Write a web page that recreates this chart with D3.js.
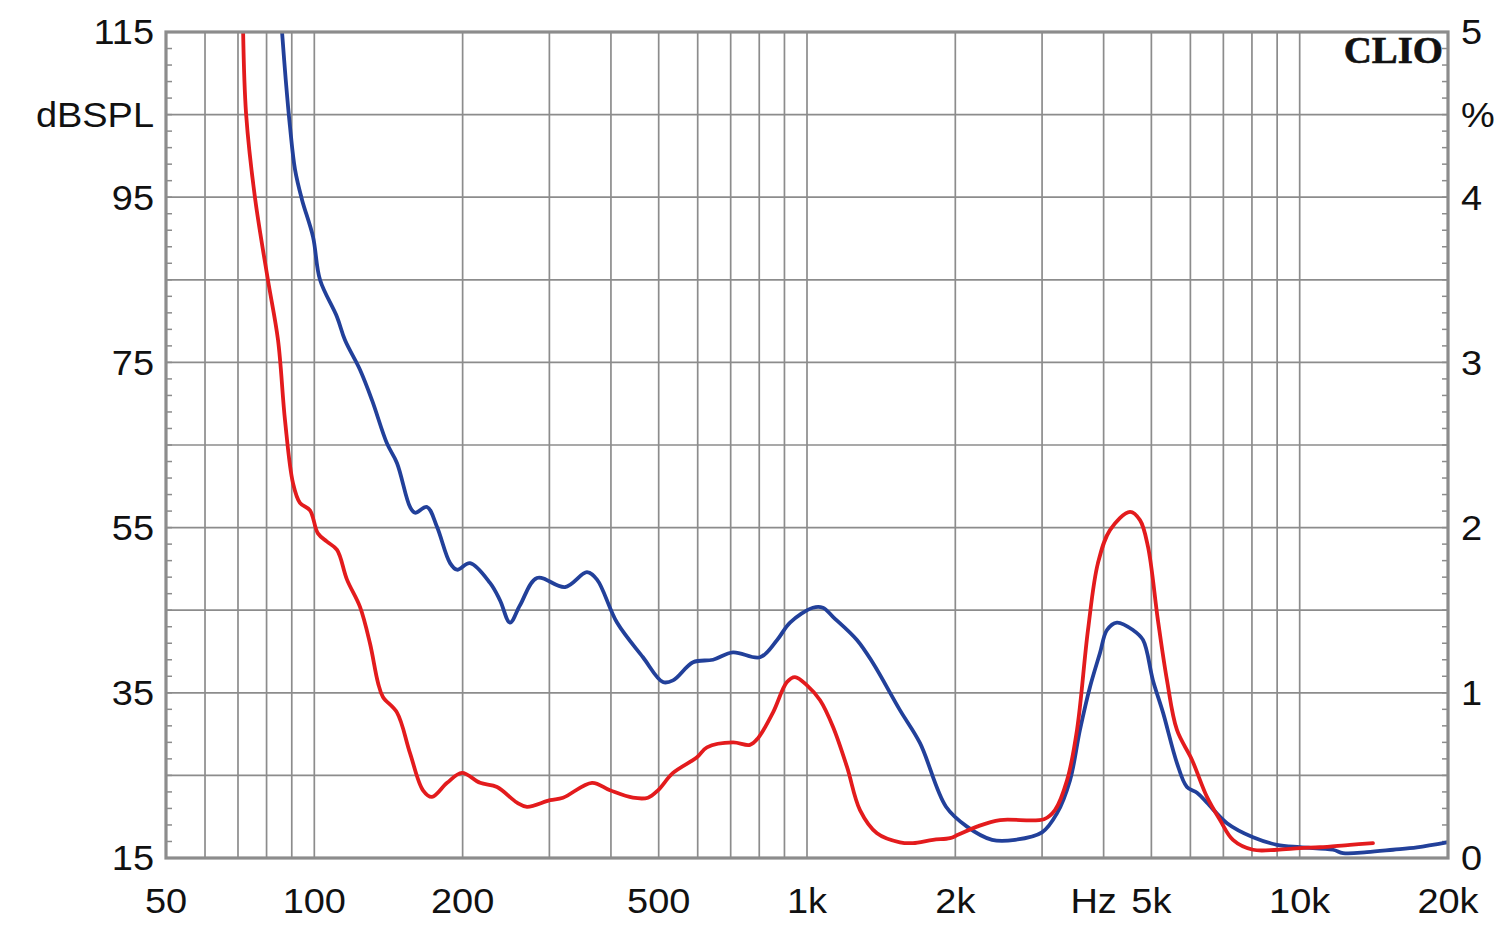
<!DOCTYPE html>
<html>
<head>
<meta charset="utf-8">
<script src="https://cdn.jsdelivr.net/npm/d3@7"></script>
<style>
  html, body { margin: 0; padding: 0; background: #ffffff; }
  svg { display: block; }
</style>
</head>
<body>
<svg id="chart" width="1500" height="934"></svg>
<script>
// ---------------- DATA ----------------
const xTickValues = [50, 100, 200, 500, 1000, 2000, 4000, 5000, 10000, 20000];
const xTickLabels = ["50", "100", "200", "500", "1k", "2k", "Hz", "5k", "10k", "20k"];
const xGridValues = [60, 70, 80, 90, 100, 200, 300, 400, 500, 600, 700, 800, 900, 1000,
                     2000, 3000, 4000, 5000, 6000, 7000, 8000, 9000, 10000];
const yTickValues = [115, 105, 95, 75, 55, 35, 15];
const yTickLabels = ["115", "dBSPL", "95", "75", "55", "35", "15"];
const yGridValues = [25, 35, 45, 55, 65, 75, 85, 95, 105];
const rightTickValues = [5, 4.5, 4, 3, 2, 1, 0];
const rightTickLabels = ["5", "%", "4", "3", "2", "1", "0"];

// red curve
const redFreq = [71.7, 72.7, 75.8, 80.5, 84.4, 87.2, 90.5, 93.5, 98.0, 101.7, 106.1, 111.2, 116.5,
  123.8, 129.7, 134.7, 137.8, 147.2, 156.4, 166.2, 173.3, 186.0, 199.4, 217.0, 234.9, 257.9, 270.2,
  300.8, 319.7, 366.1, 398.2, 443.3, 475.6, 498.4, 534.6, 598.0, 626.6, 707.4, 765.8, 795.3, 852.8,
  910.6, 945.4, 1000, 1063, 1129, 1206, 1281, 1387, 1544, 1641, 1802, 1951, 2025, 2213, 2465, 3027,
  3186, 3371, 3532, 3718, 3895, 4120, 4525, 4741, 4921, 5155, 5379, 5635, 6043, 6483, 6891, 7321,
  8040, 8990, 10013, 10995, 12650, 14086];
const redVal = [115.0, 105.1, 94.9, 85.0, 77.7, 68.0, 60.4, 58.0, 57.1, 54.3, 53.3, 52.3, 48.7,
  45.4, 41.0, 36.2, 34.5, 32.6, 27.7, 23.2, 22.4, 24.1, 25.3, 24.1, 23.6, 21.7, 21.2,
  22.0, 22.3, 24.1, 23.2, 22.3, 22.3, 23.2, 25.3, 27.2, 28.4, 29.0, 28.7, 29.5, 32.6,
  36.3, 36.9, 35.9, 34.1, 30.9, 26.0, 20.8, 18.0, 16.9, 16.8, 17.2, 17.4, 17.8, 18.8, 19.6, 19.7,
  20.8, 24.4, 30.5, 42.6, 50.7, 54.7, 56.9, 55.9, 52.7, 43.8, 36.5, 30.5, 26.9, 22.4, 19.6, 17.2,
  16.0, 16.0, 16.2, 16.3, 16.6, 16.8];

// blue curve
const blueFreq = [86.0, 87.5, 89.2, 91.4, 94.4, 99.4, 102.7, 111.2, 115.4, 123.8, 131.0, 140.4,
  147.2, 156.4, 160.1, 169.3, 177.4, 188.6, 194.8, 207.0, 227.3, 238.2, 249.6, 261.5, 283.1, 322.7,
  357.6, 374.8, 411.5, 464.6, 510.0, 534.6, 587.2, 644.6, 707.4, 802.9, 869.7, 923.8, 1028, 1077,
  1129, 1263, 1361, 1544, 1696, 1915, 2112, 2375, 2644, 2999, 3216, 3418, 3581, 3753, 3932, 4063,
  4257, 4588, 4808, 5037, 5280, 5635, 5904, 6188, 6483, 7121, 8040, 8990, 10013, 11686, 12245,
  13693, 15469, 17300, 19905];
const blueVal = [115.0, 109.2, 103.7, 98.3, 94.7, 90.2, 85.0, 80.5, 77.7, 74.1, 70.4, 65.2,
  62.8, 57.5, 56.8, 57.5, 55.1, 50.7, 49.9, 50.7, 48.3, 46.2, 43.5, 45.6, 48.9, 47.8,
  49.6, 48.7, 43.5, 39.3, 36.3, 36.5, 38.7, 39.0, 39.9, 39.3, 41.4, 43.5, 45.3, 45.3,
  44.2, 41.4, 38.6, 32.9, 28.9, 21.2, 18.8, 17.2, 17.2, 18.1, 20.4, 24.4, 30.5, 35.7, 39.8, 42.6,
  43.5, 42.6, 41.4, 36.5, 32.6, 26.5, 23.6, 22.9, 21.7, 19.2, 17.5, 16.6, 16.3, 16.0, 15.6,
  15.7, 16.0, 16.3, 16.9];

// ---------------- CHART ----------------
const svg = d3.select("#chart");
const M = { left: 166, right: 1448, top: 32, bottom: 858 };
const gridColor = "#8c8c8c";
const font = "'Liberation Sans', Arial, sans-serif";
const fs = 34.5, sx = 1.1;

const x = d3.scaleLog().domain([50, 20000]).range([M.left, M.right]);
const y = d3.scaleLinear().domain([15, 115]).range([M.bottom, M.top]);
const yR = d3.scaleLinear().domain([0, 5]).range([M.bottom, M.top]);

// grid
svg.append("g").selectAll("line").data(xGridValues).join("line")
  .attr("x1", d => x(d)).attr("x2", d => x(d))
  .attr("y1", M.top).attr("y2", M.bottom)
  .attr("stroke", gridColor).attr("stroke-width", 1.7);
svg.append("g").selectAll("line").data(yGridValues).join("line")
  .attr("x1", M.left).attr("x2", M.right)
  .attr("y1", d => y(d)).attr("y2", d => y(d))
  .attr("stroke", gridColor).attr("stroke-width", 1.7);

// minor ticks every 2 dB on left & right (inward)
const minor = d3.range(17, 115, 2);
svg.append("g").selectAll("line").data(minor).join("line")
  .attr("x1", M.left).attr("x2", M.left + 6)
  .attr("y1", d => y(d)).attr("y2", d => y(d))
  .attr("stroke", gridColor).attr("stroke-width", 1.5);
svg.append("g").selectAll("line").data(minor).join("line")
  .attr("x1", M.right - 6).attr("x2", M.right)
  .attr("y1", d => y(d)).attr("y2", d => y(d))
  .attr("stroke", gridColor).attr("stroke-width", 1.5);

// curves
svg.append("clipPath").attr("id", "plotclip").append("rect")
  .attr("x", M.left).attr("y", M.top)
  .attr("width", M.right - M.left).attr("height", M.bottom - M.top);

const line = d3.line().x(d => x(d[0])).y(d => y(d[1])).curve(d3.curveCatmullRom.alpha(0.5));
const redData = redFreq.map((f, i) => [f, redVal[i]]);
const blueData = blueFreq.map((f, i) => [f, blueVal[i]]);

const curves = svg.append("g").attr("clip-path", "url(#plotclip)");
curves.append("path").datum(blueData).attr("d", line)
  .attr("fill", "none").attr("stroke", "#22409a").attr("stroke-width", 3.8)
  .attr("stroke-linejoin", "round").attr("stroke-linecap", "round");
curves.append("path").datum(redData).attr("d", line)
  .attr("fill", "none").attr("stroke", "#e31b1d").attr("stroke-width", 3.8)
  .attr("stroke-linejoin", "round").attr("stroke-linecap", "round");

// frame
svg.append("rect")
  .attr("x", M.left).attr("y", M.top)
  .attr("width", M.right - M.left).attr("height", M.bottom - M.top)
  .attr("fill", "none").attr("stroke", gridColor).attr("stroke-width", 3.2);

// x labels
svg.append("g").selectAll("text").data(xTickValues).join("text")
  .attr("transform", (d, i) => `translate(${x(d) + (xTickLabels[i] === "Hz" ? -10 : 0)},913) scale(${sx},1)`)
  .attr("text-anchor", "middle")
  .attr("font-family", font).attr("font-size", fs).attr("fill", "#111")
  .text((d, i) => xTickLabels[i]);

// left labels
svg.append("g").selectAll("text").data(yTickValues).join("text")
  .attr("transform", d => `translate(154,${y(d)}) scale(${sx},1)`)
  .attr("dy", "0.36em")
  .attr("text-anchor", "end")
  .attr("font-family", font).attr("font-size", fs).attr("fill", "#111")
  .text((d, i) => yTickLabels[i]);

// right labels
svg.append("g").selectAll("text").data(rightTickValues).join("text")
  .attr("transform", d => `translate(1461,${yR(d)}) scale(${sx},1)`)
  .attr("dy", "0.36em")
  .attr("text-anchor", "start")
  .attr("font-family", font).attr("font-size", fs).attr("fill", "#111")
  .text((d, i) => rightTickLabels[i]);

// CLIO logo
svg.append("text")
  .attr("transform", "translate(1443,63) scale(1.05,1)")
  .attr("text-anchor", "end")
  .attr("font-family", "'Liberation Serif', 'DejaVu Serif', serif")
  .attr("font-weight", "bold").attr("font-size", 37).attr("fill", "#111")
  .attr("stroke", "#111").attr("stroke-width", 0.6)
  .text("CLIO");
</script>
</body>
</html>
